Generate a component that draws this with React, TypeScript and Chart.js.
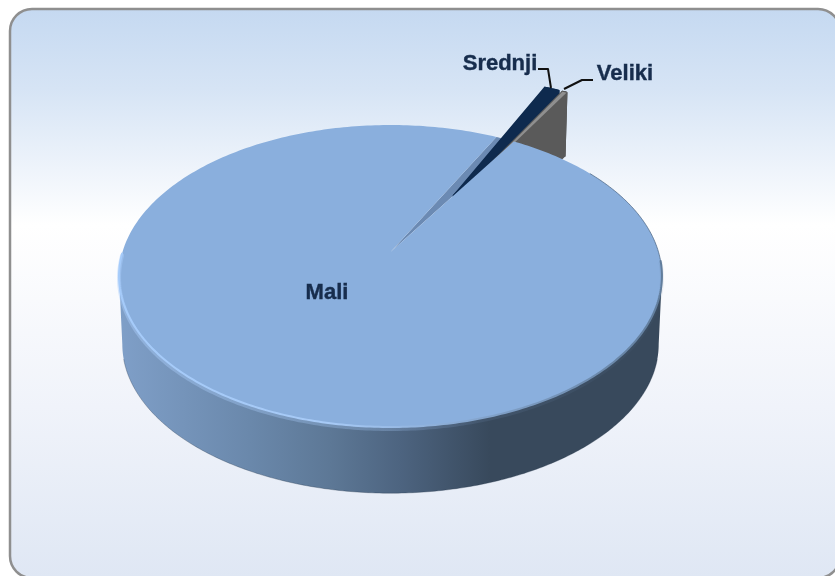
import React, { useEffect, useRef } from "react";
import { Chart, registerables } from "chart.js";

Chart.register(...registerables);

const categories = ["Mali", "Srednji", "Veliki"];
const shares = [98.7, 1.0, 0.3];
const topColors = ["#8aafdd", "#0e2a4e", "#8f8f8f"];
const explode = [0, 282, 282];

const W = 835;
const H = 576;
const CX = 390.5;
const CY = 276;
const A = 268;
const B = 151;
const C = 24;
const K = 0.159;
const DEPTH = 68;
const SHRINK = 0.012;
const DEG = Math.PI / 180;
const OFFSET_TILT = 3 * DEG;
const SLICE_TILT = -1.5 * DEG;
const SLICE_RADIUS = 1.05;
const SLICE_DEPTH = 0.9;

type P = [number, number];

// Perspective projection of a point of the unit disc (canvas orientation), z = 0 top, z = 1 bottom
function proj(u: number, w: number, z = 0): P {
  const v = -w;
  const d = 1 + K * v;
  const X = (A * u) / d;
  const Y = (B * v + C) / d;
  const s = 1 - SHRINK * z;
  return [CX + X * s, CY - Y * s + DEPTH * z];
}

function arcPts(cu: number, cw: number, a0: number, a1: number, z: number, n: number, r = 1): P[] {
  const pts: P[] = [];
  for (let i = 0; i <= n; i++) {
    const t = a0 + ((a1 - a0) * i) / n;
    pts.push(proj(cu + r * Math.cos(t), cw + r * Math.sin(t), z));
  }
  return pts;
}

function poly(ctx: CanvasRenderingContext2D, pts: P[], close = true) {
  ctx.beginPath();
  pts.forEach((p, i) => (i ? ctx.lineTo(p[0], p[1]) : ctx.moveTo(p[0], p[1])));
  if (close) ctx.closePath();
}

function gradX(ctx: CanvasRenderingContext2D, stops: [number, string][]) {
  const g = ctx.createLinearGradient(119, 0, 662, 0);
  stops.forEach(([x, c]) => g.addColorStop((x - 119) / 543, c));
  return g;
}

const panelPlugin = {
  id: "panel",
  beforeDraw(chart: any) {
    const ctx = chart.ctx as CanvasRenderingContext2D;
    ctx.save();
    const g = ctx.createLinearGradient(0, 9, 0, 578);
    g.addColorStop(0, "#c5d9f1");
    g.addColorStop(0.14, "#d6e4f5");
    g.addColorStop(0.38, "#ffffff");
    g.addColorStop(0.7, "#f0f3fa");
    g.addColorStop(1, "#dfe7f4");
    ctx.beginPath();
    ctx.roundRect(10, 9, 830, 569, 22);
    ctx.fillStyle = g;
    ctx.fill();
    ctx.lineWidth = 2.5;
    ctx.strokeStyle = "#8f8f8f";
    ctx.stroke();
    ctx.restore();
  },
};

const pie3dPlugin = {
  id: "pie3d",
  beforeDatasetDraw(chart: any) {
    const ctx = chart.ctx as CanvasRenderingContext2D;
    const arcs = chart.getDatasetMeta(0).data as any[];
    const geo = arcs.map((arc) => {
      const R = arc.outerRadius;
      const mid = (arc.startAngle + arc.endAngle) / 2 + OFFSET_TILT;
      const off = (arc.options.offset || 0) / 4 / R;
      return { a0: arc.startAngle, a1: arc.endAngle, cu: Math.cos(mid) * off, cw: Math.sin(mid) * off };
    });
    ctx.save();

    // Mali: outer wall, between the two silhouette points of the ellipse
    const m = geo[0];
    const wallA = Math.asin(K);
    const wallB = Math.PI - wallA;
    const topEdge = arcPts(0, 0, wallA, wallB, 0, 240);
    const botEdge = arcPts(0, 0, wallA, wallB, 1, 240).reverse();
    poly(ctx, [...topEdge, ...botEdge]);
    ctx.fillStyle = gradX(ctx, [
      [119, "#7f9fc8"],
      [250, "#6a88ab"],
      [330, "#5d7896"],
      [400, "#4d6480"],
      [490, "#38495c"],
      [662, "#38495c"],
    ]);
    ctx.fill();
    // darker lower rim of the wall
    poly(ctx, arcPts(0, 0, wallA + 0.1, wallB - 0.1, 1, 240), false);
    ctx.strokeStyle = "rgba(30,45,65,0.3)";
    ctx.lineWidth = 1;
    ctx.stroke();

    // inner wall seen through the gap of Mali
    poly(ctx, [proj(0, 0), ...arcPts(0, 0, m.a1 - Math.PI * 2, m.a0, 0, 12)]);
    ctx.fillStyle = "#6b8ab3";
    ctx.fill();

    // Exploded slices, wall then top
    [1, 2].forEach((i) => {
      const s = geo[i];
      const a0 = s.a0 + SLICE_TILT;
      const a1 = s.a1 + SLICE_TILT;
      const top = [proj(s.cu, s.cw, 0), ...arcPts(s.cu, s.cw, a0, a1, 0, 10, SLICE_RADIUS)];
      const bottom = [
        proj(s.cu, s.cw, SLICE_DEPTH),
        ...arcPts(s.cu, s.cw, a0, a1, SLICE_DEPTH, 10, SLICE_RADIUS),
      ];
      const wallColor = i === 1 ? "#0e2a4e" : "#5a5a5a";
      ctx.fillStyle = wallColor;
      ctx.strokeStyle = wallColor;
      ctx.lineWidth = 2;
      ctx.lineJoin = "round";
      for (let j = 0; j < top.length; j++) {
        const k = (j + 1) % top.length;
        poly(ctx, [top[j], top[k], bottom[k], bottom[j]]);
        ctx.fill();
        ctx.stroke();
      }
      poly(ctx, top);
      ctx.fillStyle = topColors[i];
      ctx.fill();
    });

    // Mali: top face
    poly(ctx, [proj(0, 0), ...arcPts(0, 0, m.a0, m.a1, 0, 360)]);
    ctx.fillStyle = topColors[0];
    ctx.fill();

    // Rim highlight on the front edge
    const rim = arcPts(0, 0, wallA - 0.1, wallB + 0.15, 0, 240);
    ctx.lineCap = "round";
    poly(ctx, rim.map(([x, y]) => [x, y + 2] as P), false);
    ctx.strokeStyle = gradX(ctx, [
      [119, "rgba(170,205,250,0.45)"],
      [390, "rgba(160,195,240,0.3)"],
      [480, "rgba(120,150,190,0.15)"],
      [662, "rgba(80,105,135,0.1)"],
    ]);
    ctx.lineWidth = 4;
    ctx.stroke();
    poly(ctx, rim, false);
    ctx.strokeStyle = gradX(ctx, [
      [119, "#a5cbfa"],
      [330, "#a7caf6"],
      [420, "#92b4de"],
      [500, "#7f9fc6"],
      [662, "#617d9c"],
    ]);
    ctx.lineWidth = 2;
    ctx.stroke();
    // Thin dark outline on the upper right edge
    poly(ctx, arcPts(0, 0, -0.62, 0.05, 0, 60), false);
    ctx.strokeStyle = "rgba(70,95,125,0.7)";
    ctx.lineWidth = 1;
    ctx.stroke();

    ctx.restore();
    return false;
  },
  afterDatasetsDraw(chart: any) {
    const ctx = chart.ctx as CanvasRenderingContext2D;
    ctx.save();
    ctx.fillStyle = "#172d4d";
    ctx.strokeStyle = "#172d4d";
    ctx.lineWidth = 0.4;
    ctx.font = "bold 22px 'Liberation Sans', Arial, sans-serif";
    ctx.textBaseline = "alphabetic";
    ctx.textAlign = "center";
    const labelsAt: [number, number, number][] = [
      [0, 327, 299],
      [1, 500, 70],
      [2, 625, 80],
    ];
    labelsAt.forEach(([i, x, y]) => {
      ctx.fillText(categories[i], x, y);
      ctx.strokeText(categories[i], x, y);
    });
    ctx.strokeStyle = "#111111";
    ctx.lineWidth = 2;
    ctx.lineJoin = "round";
    ctx.beginPath();
    ctx.moveTo(538, 69);
    ctx.lineTo(548, 69);
    ctx.lineTo(551, 88);
    ctx.moveTo(593, 80);
    ctx.lineTo(582, 80);
    ctx.lineTo(564, 89);
    ctx.stroke();
    ctx.restore();
  },
};

export default function App() {
  const ref = useRef<HTMLCanvasElement>(null);
  useEffect(() => {
    const chart = new Chart(ref.current as HTMLCanvasElement, {
      type: "pie",
      data: {
        labels: categories,
        datasets: [
          {
            data: shares,
            backgroundColor: topColors,
            borderWidth: 0,
            offset: explode,
          } as any,
        ],
      },
      options: {
        responsive: false,
        animation: false,
        rotation: 31.5,
        plugins: { legend: { display: false }, tooltip: { enabled: false } },
      },
      plugins: [panelPlugin, pie3dPlugin],
    } as any);
    return () => chart.destroy();
  }, []);
  return (
    <div style={{ position: "fixed", left: 0, top: 0, width: W, height: H, background: "#fff" }}>
      <canvas ref={ref} width={W} height={H} style={{ display: "block" }} />
    </div>
  );
}
